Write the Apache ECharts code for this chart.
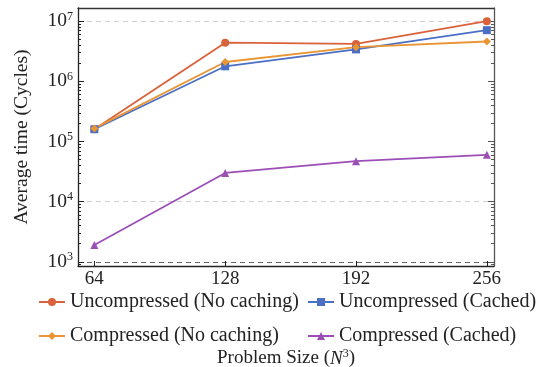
<!DOCTYPE html>
<html>
<head>
<meta charset="utf-8">
<script src="https://cdn.jsdelivr.net/npm/echarts@6/dist/echarts.min.js"></script>
<style>
  html, body { margin: 0; padding: 0; background: #fff; }
  #timeChart { width: 537px; height: 367px; }
</style>
</head>
<body>
<div id="timeChart"></div>
<script>
    // problem sizes (N^3)
    const sizes = [64, 128, 192, 256]
    const xTicks = [64, 128, 192, 256]
    // average time in cycles
    const uncompNoCache = [1.6e5, 4.4e6, 4.2e6, 1.0e7]
    const uncompCached = [1.6e5, 1.78e6, 3.4e6, 7.1e6]
    const compNoCache = [1.65e5, 2.1e6, 3.7e6, 4.6e6]
    const compCached = [1.9e3, 3.0e4, 4.7e4, 6.0e4]
    const yMajor = [1e3, 1e4, 1e5, 1e6, 1e7]
    // dashed grid lines that show in the figure
    const gridLight = [1e4, 1e7]
    const gridDark = [1e3]
    const yMinor = []
    for (let d = 2; d <= 7; d++) {
        for (let k = 2; k <= 9; k++) {
            const v = k * Math.pow(10, d)
            if (v >= 900 && v <= 1.6e7) yMinor.push(v)
        }
    }

    const pairs = (ys) => sizes.map((x, i) => [x, ys[i]])
    const font = '"Liberation Serif", "DejaVu Serif", serif'
    const yMin = 850
    const yMax = 1.66e7

    const logAxis = (extra) => Object.assign({
        type: 'log',
        logBase: 10,
        min: yMin,
        max: yMax,
        axisLine: { show: false },
        axisLabel: { show: false },
        axisTick: { show: false },
        splitLine: { show: false },
        minorTick: { show: false },
    }, extra)

    const option = {
        animation: false,
        color: ['#D9623B', '#4A6FC4', '#E99534', '#9B4FB6'],
        grid: { left: 78, right: 43, top: 8, bottom: 101, outerBoundsMode: 'none', containLabel: false },
        legend: [
            {
                orient: 'vertical',
                left: 33,
                top: 287,
                itemGap: 14,
                itemWidth: 26,
                itemHeight: 10,
                textStyle: { fontFamily: font, fontSize: 20, color: '#222' },
                data: ['Uncompressed (No caching)', 'Compressed (No caching)']
            },
            {
                orient: 'vertical',
                left: 302,
                top: 287,
                itemGap: 14,
                itemWidth: 26,
                itemHeight: 10,
                textStyle: { fontFamily: font, fontSize: 20, color: '#222' },
                data: ['Uncompressed (Cached)', 'Compressed (Cached)']
            }
        ],
        xAxis: [
            {
                type: 'value',
                min: 56,
                max: 259.5,
                name: '{t|Problem Size (}{i|N}{s|3}{t|)}',
                nameLocation: 'middle',
                nameGap: 82,
                nameTextStyle: {
                    rich: {
                        t: { fontFamily: font, fontSize: 19, color: '#222' },
                        i: { fontFamily: font, fontSize: 19, fontStyle: 'italic', color: '#222' },
                        s: { fontFamily: font, fontSize: 12, color: '#222', padding: [0, 0, 9, 0] }
                    }
                },
                axisLine: { show: true, onZero: false, lineStyle: { color: '#222', width: 1.3 } },
                axisTick: { show: true, inside: true, length: 5, customValues: xTicks, lineStyle: { color: '#222' } },
                axisLabel: { customValues: xTicks, fontFamily: font, fontSize: 19, color: '#222', margin: 4 },
                splitLine: { show: false }
            },
            {
                type: 'value',
                position: 'top',
                min: 56,
                max: 259.5,
                axisLine: { show: true, onZero: false, lineStyle: { color: '#333', width: 1.3 } },
                axisTick: { show: false },
                axisLabel: { show: false },
                splitLine: { show: false }
            }
        ],
        yAxis: [
            logAxis({
                name: 'Average time (Cycles)',
                nameLocation: 'middle',
                nameGap: 46,
                nameTextStyle: { fontFamily: font, fontSize: 19.5, color: '#222' },
                axisLine: { show: true, onZero: false, lineStyle: { color: '#222', width: 1.3 } },
                axisTick: { show: true, inside: true, length: 6, customValues: yMajor, lineStyle: { color: '#222' } },
                axisLabel: {
                    show: true,
                    customValues: yMajor,
                    margin: 5,
                    formatter: (v) => '{b|10}{s|' + Math.round(Math.log10(v)) + '}',
                    rich: {
                        b: { fontFamily: font, fontSize: 19.5, color: '#222' },
                        s: { fontFamily: font, fontSize: 12, color: '#222', padding: [0, 0, 9, 0] }
                    }
                }
            }),
            logAxis({
                position: 'left',
                axisTick: { show: true, inside: true, length: 3, customValues: yMinor, lineStyle: { color: '#222' } }
            }),
            logAxis({
                position: 'right',
                axisLine: { show: true, onZero: false, lineStyle: { color: '#555', width: 1.3 } },
                axisTick: { show: true, inside: true, length: 6, customValues: yMajor, lineStyle: { color: '#555' } }
            }),
            logAxis({
                position: 'right',
                axisTick: { show: true, inside: true, length: 3, customValues: yMinor, lineStyle: { color: '#555' } }
            }),
            logAxis({
                position: 'left',
                axisTick: { show: false, customValues: gridLight },
                splitLine: { show: true, lineStyle: { color: '#cfcfcf', type: [5, 4], width: 1 } }
            }),
            logAxis({
                position: 'left',
                axisTick: { show: false, customValues: gridDark },
                splitLine: { show: true, lineStyle: { color: '#666', type: [5, 4], width: 1 } }
            })
        ],
        series: [
            {
                name: 'Uncompressed (No caching)',
                type: 'line',
                symbol: 'circle',
                symbolSize: 8,
                lineStyle: { width: 1.8 },
                data: pairs(uncompNoCache)
            },
            {
                name: 'Uncompressed (Cached)',
                type: 'line',
                symbol: 'rect',
                symbolSize: 8,
                lineStyle: { width: 1.8 },
                data: pairs(uncompCached)
            },
            {
                name: 'Compressed (No caching)',
                type: 'line',
                symbol: 'diamond',
                symbolSize: 8,
                lineStyle: { width: 1.8 },
                data: pairs(compNoCache)
            },
            {
                name: 'Compressed (Cached)',
                type: 'line',
                symbol: 'triangle',
                symbolSize: 8,
                lineStyle: { width: 1.8 },
                data: pairs(compCached)
            }
        ]
    }

    const timeChart = echarts.init(document.getElementById('timeChart'))
    timeChart.setOption(option)
    window.addEventListener('resize', () => timeChart.resize())
</script>
</body>
</html>
